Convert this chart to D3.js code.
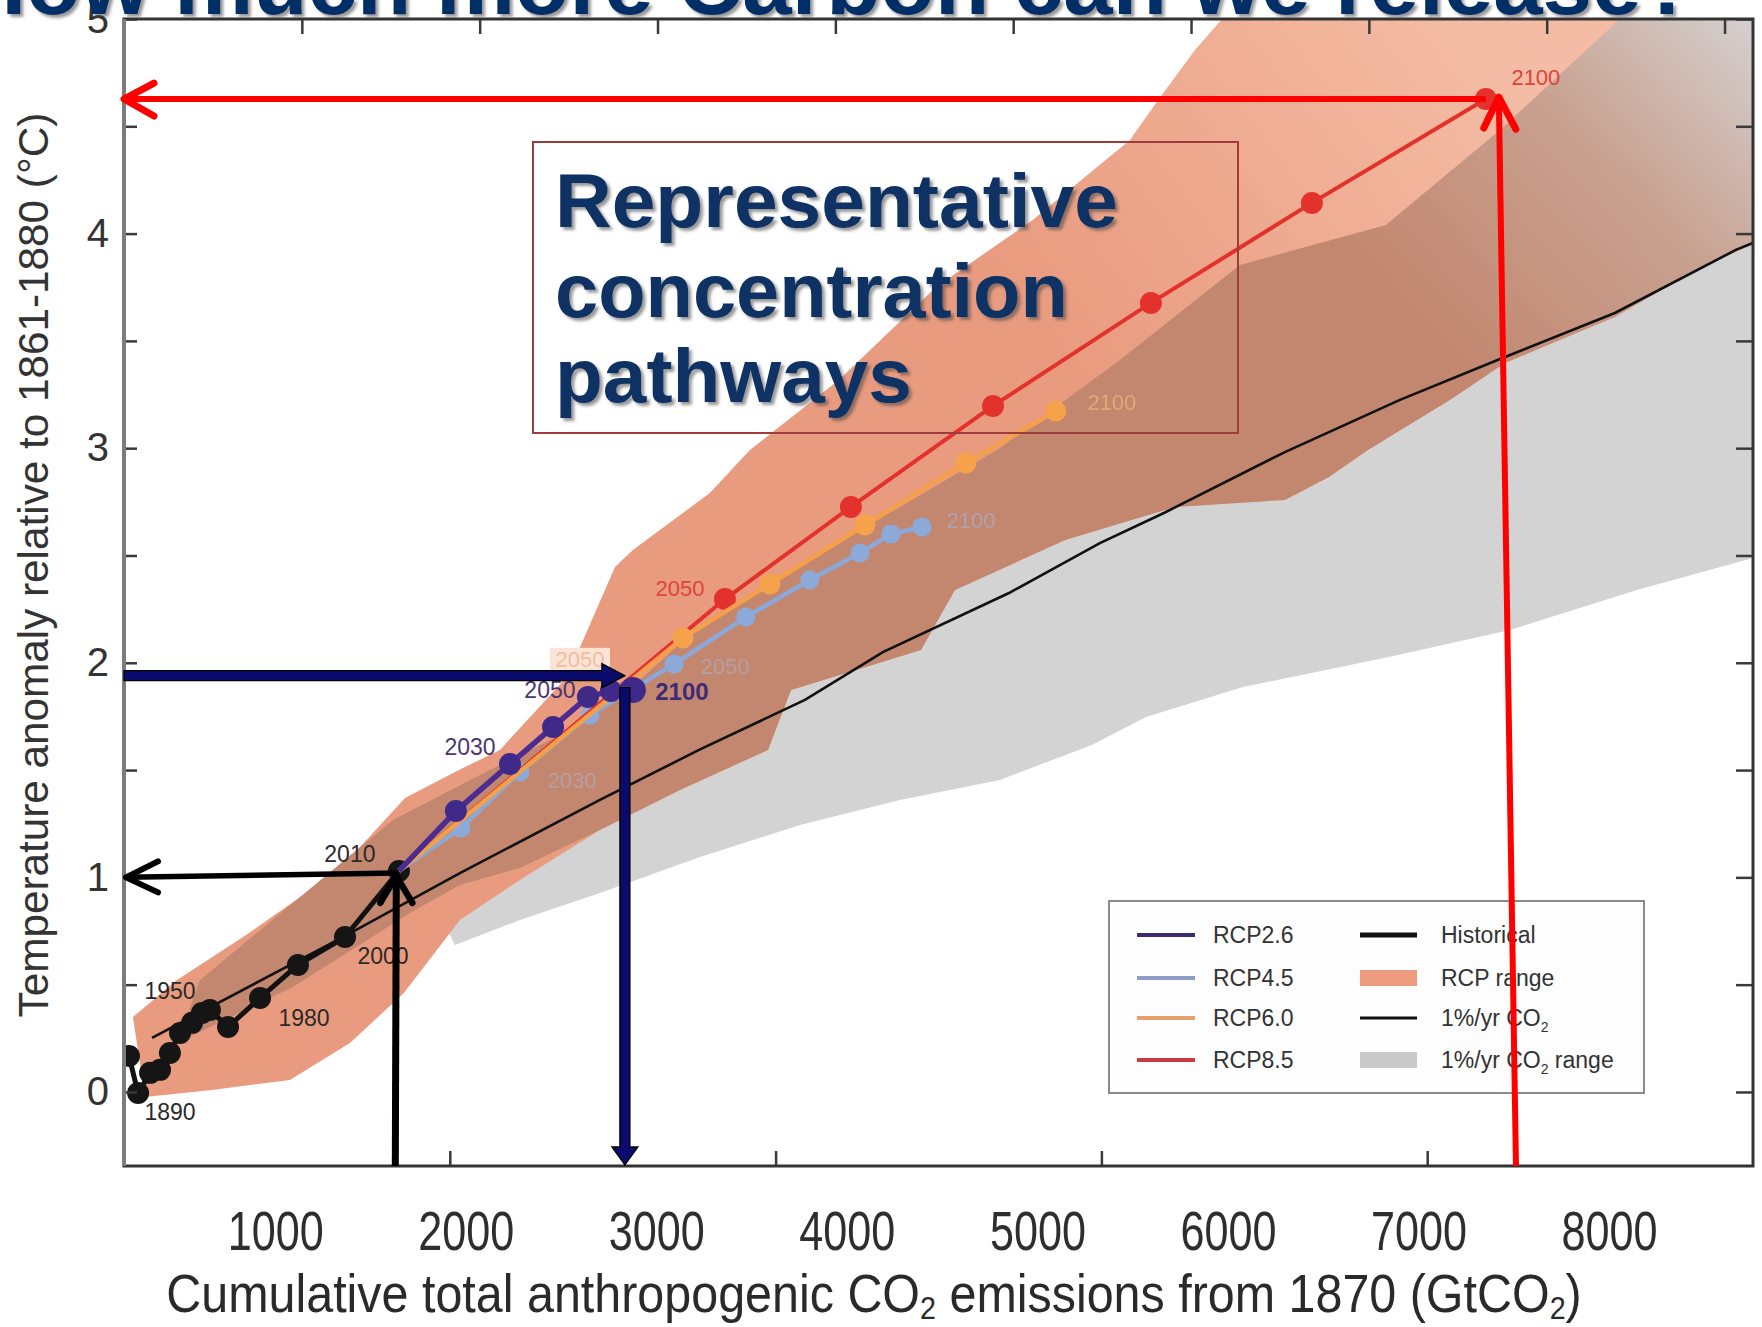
<!DOCTYPE html>
<html><head><meta charset="utf-8">
<script src="https://cdn.jsdelivr.net/npm/d3@7"></script>
<style>
html,body{margin:0;padding:0;background:#fff;}
svg{display:block;}
text{font-family:"Liberation Sans",Arial,sans-serif;}
</style></head>
<body>
<svg id="chart" width="1762" height="1327"></svg>
<script>
// ---------- data (GtCO2 cumulative since 1870, temperature anomaly in °C) ----------
const xTickLabels = [1000, 2000, 3000, 4000, 5000, 6000, 7000, 8000];
const yTickLabels = [0, 1, 2, 3, 4, 5];
const yMinorTicks = [0, 0.5, 1, 1.5, 2, 2.5, 3, 3.5, 4, 4.5, 5];
const topFrameTicks = [300, 600, 900, 1200, 1500, 1800, 2100, 2400, 2700];   // GtC
const bottomFrameTicks = [2000, 4000, 6000, 8000];

const historical = [[232,0.168],[280,-0.005],[343,0.089],[395,0.103],[447,0.182],[500,0.275],
  [563,0.322],[615,0.368],[657,0.382],[752,0.303],[920,0.438],[1119,0.592],[1366,0.722],[1649,1.030]];
const historicalLabels = ['1890','1950','1980','2000','2010'];
const historicalLabelIdx = [1, 6, 10, 12, 13];

const rcp26 = [[1649,1.030],[1948,1.309],[2232,1.528],[2458,1.701],[2641,1.841],[2762,1.869],[2877,1.873]];
const rcp45 = [[1649,1.030],[1975,1.230],[2284,1.491],[2652,1.757],[3093,1.994],[3470,2.213],[3806,2.386],[4069,2.512],[4232,2.600],[4394,2.633]];
const rcp60 = [[1649,1.030],[3140,2.116],[3596,2.367],[4095,2.642],[4625,2.931],[5097,3.173]];
const rcp85 = [[1649,1.030],[3360,2.297],[4021,2.726],[4767,3.197],[5596,3.677],[6441,4.143],[7354,4.627]];

const pctCO2 = [[353,0.252],[1355,0.722],[1969,1.020],[2704,1.361],[3224,1.594],[3780,1.827],[4189,2.050],
  [4851,2.325],[5328,2.558],[5664,2.698],[6299,2.982],[6903,3.225],[7454,3.425],[8031,3.630],[8666,3.924],[8755,3.956]];

// RCP plume (outer edge), upper side left -> right
const rcpRangeUpper = [[253,0.349],[484,0.522],[831,0.722],[1183,0.941],[1445,1.141],[1681,1.370],[1943,1.491],
  [2179,1.594],[2531,1.934],[2783,2.446],[2877,2.526],[3281,2.791],[3491,2.991],[3958,3.318],[4468,3.751],
  [4977,4.064],[5486,4.436],[5630,4.618],[5827,4.855],[5969,5.0]];
// RCP plume, lower side right -> left
const rcpRangeLower = [[8756,3.947],[8688,3.924],[8457,3.830],[8032,3.611],[7454,3.397],[7165,3.225],[6735,2.992],
  [6530,2.866],[6299,2.759],[5722,2.726],[5145,2.572],[4567,2.339],[4389,2.060],[3707,1.873],[3586,1.594],
  [3124,1.407],[2704,1.221],[2284,0.988],[1969,0.801],[1675,0.461],[1392,0.228],[1077,0.056],[668,0.009],[316,-0.023]];
// edge of the 1%/yr CO2 range inside the plume (left -> right)
const pctRangeUpper = [[484,0.228],[605,0.522],[1618,1.267],[2074,1.477],[2494,1.664],[2914,1.920],[3229,2.176],
  [3586,2.372],[4189,2.679],[4788,2.991],[5433,3.411],[6063,3.854],[6829,4.040],[7428,4.483],[8057,5.0]];
// lower edge of the overlap in the historical period (right -> left)
const overlapLowerHist = [[2284,1.044],[1969,0.965],[1707,0.834],[1093,0.489],[484,0.228]];
// lower edge of the 1%/yr CO2 range (left -> right)
const pctRangeLower = [[1943,0.685],[2284,0.801],[2704,0.927],[3229,1.095],[3754,1.244],[4278,1.361],[4803,1.454],
  [5286,1.617],[5570,1.747],[6079,1.887],[6845,2.027],[7480,2.153],[8147,2.339],[8756,2.488]];

const legendLeft = ['RCP2.6','RCP4.5','RCP6.0','RCP8.5'];
const legendRight = [['Historical',''],['RCP range',''],['1%/yr CO','2'],['1%/yr CO','2',' range']];

// budget read-offs
const obsBudget = {gtco2: 1630, temp: 1.0};
const rcp26Budget = {gtco2: 2835, temp: 1.94};
const rcp85Budget = {top: 7422, bottom: 7512, temp: 4.627};

// ---------- layout ----------
const svg = d3.select('#chart');
const F = {left:124, right:1753, top:19, bottom:1166};
const x = d3.scaleLinear().domain([206, 8756]).range([F.left, F.right]);
const y = d3.scaleLinear().domain([-0.345, 5]).range([F.bottom, F.top]);
const xTop = d3.scaleLinear().domain([0, 2748]).range([F.left, F.right]);
const xBot = d3.scaleLinear().domain([0, 10000]).range([F.left, F.right]);
const xMax = x.domain()[1];

svg.append('rect').attr('width',1762).attr('height',1327).attr('fill','#fff');
const defs = svg.append('defs');
const gA = defs.append('linearGradient').attr('id','plumeFade').attr('gradientUnits','userSpaceOnUse')
  .attr('x1',1050).attr('y1',330).attr('x2',1460).attr('y2',20);
gA.append('stop').attr('offset',0).attr('stop-color','#e99b7f');
gA.append('stop').attr('offset',1).attr('stop-color','#f4bca4');
const gB = defs.append('linearGradient').attr('id','coreFade').attr('gradientUnits','userSpaceOnUse')
  .attr('x1',1420).attr('y1',330).attr('x2',1753).attr('y2',20);
gB.append('stop').attr('offset',0).attr('stop-color','#c3876f');
gB.append('stop').attr('offset',0.55).attr('stop-color','#c8a190');
gB.append('stop').attr('offset',1).attr('stop-color','#d4d0cf');
const sh = defs.append('filter').attr('id','shadow').attr('x','-5%').attr('y','-30%').attr('width','115%').attr('height','160%');
sh.append('feDropShadow').attr('dx',3).attr('dy',3).attr('stdDeviation',1.6).attr('flood-color','#444').attr('flood-opacity',0.55);
defs.append('clipPath').attr('id','plotClip').append('rect')
  .attr('x',F.left).attr('y',F.top).attr('width',F.right-F.left).attr('height',F.bottom-F.top);

const line = d3.line().x(d => x(d[0])).y(d => y(d[1]));
const poly = pts => line(pts) + 'Z';
const plot = svg.append('g').attr('clip-path','url(#plotClip)');

// 1%/yr CO2 range
const grayPts = pctRangeLower.concat([[xMax,5]], pctRangeUpper.filter(d => d[0] >= 1618).reverse());
plot.append('path').attr('d', poly(grayPts)).attr('fill','#d3d3d3');
// RCP plume
const plumePts = rcpRangeUpper.concat([[xMax,5]], rcpRangeLower);
plot.append('path').attr('d', poly(plumePts)).attr('fill','url(#plumeFade)');
// overlap of the plume with the 1%/yr range
const corePts = pctRangeUpper.concat([[xMax,5]], rcpRangeLower.filter(d => d[0] >= 2704), overlapLowerHist);
plot.append('path').attr('d', poly(corePts)).attr('fill','url(#coreFade)');

// 1%/yr CO2 line
plot.append('path').attr('d', line(pctCO2)).attr('fill','none').attr('stroke','#111').attr('stroke-width',2.6);

// historical
plot.append('path').attr('d', line(historical)).attr('fill','none').attr('stroke','#111').attr('stroke-width',5).attr('stroke-linejoin','round');
plot.selectAll('.hist').data(historical).join('circle').attr('class','hist')
  .attr('cx', d => x(d[0])).attr('cy', d => y(d[1])).attr('r', 11).attr('fill','#151515');

// scenarios
const series = [
  {data: rcp45, color:'#84ace6', dot:'#86aee6', w:4.5, r:9.5, op:0.9},
  {data: rcp85, color:'#e3322b', dot:'#e3322b', w:4, r:11, op:1},
  {data: rcp60, color:'#f4a04a', dot:'#f6a24a', w:4.5, r:10.5, op:1},
  {data: rcp26, color:'#4d2c92', dot:'#3f2a8a', w:5.5, r:11, op:1}
];
series.forEach(s => {
  const g = plot.append('g').attr('opacity', s.op);
  g.append('path').attr('d', line(s.data)).attr('fill','none').attr('stroke', s.color).attr('stroke-width', s.w).attr('stroke-linejoin','round');
  g.selectAll('circle').data(s.data.slice(1)).join('circle')
    .attr('cx', d => x(d[0])).attr('cy', d => y(d[1]))
    .attr('r', (d, i, n) => (s.data === rcp26 && i === n.length - 1) ? 13 : s.r).attr('fill', s.dot);
});

// year annotations
const yearFont = '"Liberation Sans",Arial,sans-serif';
function yearLabel(pt, dx, dy, txt, fill, size, weight, op) {
  return svg.append('text').attr('x', x(pt[0]) + dx).attr('y', y(pt[1]) + dy).attr('dy','0.35em')
    .attr('text-anchor','middle').attr('font-size', size || 23).attr('font-weight', weight || 'normal')
    .attr('fill', fill).attr('opacity', op || 1).text(txt);
}
const histOff = [[32,19],[-22,-32],[44,20],[38,19],[-49,-17]];
historicalLabels.forEach((t, i) => yearLabel(historical[historicalLabelIdx[i]], histOff[i][0], histOff[i][1], t, '#2a2a2a'));
yearLabel(rcp26[2], -40, -17, '2030', '#4a3475', 23);
yearLabel(rcp26[4], -38, -7, '2050', '#4a3475', 23);
yearLabel(rcp26[6], 49, 2, '2100', '#3f2a78', 24, 'bold');
yearLabel(rcp85[1], -45, -11, '2050', '#e0443c', 22);
yearLabel(rcp85[6], 50, -22, '2100', '#d9453e', 22);
yearLabel(rcp60[5], 56, -9, '2100', '#f2b57c', 22, 'normal', 0.7);
yearLabel(rcp45[9], 49, -7, '2100', '#9fb8e4', 22, 'normal', 0.55);
yearLabel(rcp45[4], 51, 2, '2050', '#a7bde4', 22, 'normal', 0.45);
yearLabel(rcp45[2], 52, 8, '2030', '#a7bde4', 22, 'normal', 0.45);
// pale boxed 2050 marker on RCP6.0
{
  const px = x(rcp60[1][0]) - 103, py = y(rcp60[1][1]) + 21;
  svg.append('rect').attr('x', px - 30).attr('y', py - 11).attr('width', 60).attr('height', 22).attr('fill','#fbe4d6');
  svg.append('text').attr('x', px).attr('y', py).attr('dy','0.35em').attr('text-anchor','middle')
    .attr('font-size', 22).attr('fill','#efbea3').text('2050');
}

// ---------- frame and axes ----------
const tickStyle = g => { g.select('.domain').remove(); g.selectAll('line').attr('stroke','#3a3a3a').attr('stroke-width',2.5); };
svg.append('g').attr('transform',`translate(${F.left},0)`).call(d3.axisRight(y).tickValues(yMinorTicks).tickSize(13).tickFormat('')).call(tickStyle);
svg.append('g').attr('transform',`translate(${F.right},0)`).call(d3.axisLeft(y).tickValues(yMinorTicks).tickSize(17).tickFormat('')).call(tickStyle);
svg.append('g').attr('transform',`translate(0,${F.top})`).call(d3.axisBottom(xTop).tickValues(topFrameTicks).tickSize(15).tickFormat('')).call(tickStyle);
svg.append('g').attr('transform',`translate(0,${F.bottom})`).call(d3.axisTop(xBot).tickValues(bottomFrameTicks).tickSize(15).tickFormat('')).call(tickStyle);

svg.append('rect').attr('x',F.left).attr('y',F.top).attr('width',F.right-F.left).attr('height',F.bottom-F.top)
  .attr('fill','none').attr('stroke','#333').attr('stroke-width',3);
svg.append('line').attr('x1',F.left).attr('x2',F.left).attr('y1',F.top).attr('y2',F.bottom).attr('stroke','#7c7c7c').attr('stroke-width',4);

// y labels
const yAx = svg.append('g').attr('transform',`translate(${F.left},0)`)
  .call(d3.axisLeft(y).tickValues(yTickLabels.filter(v => v < 5)).tickSize(0).tickPadding(15).tickFormat(d3.format('d')));
yAx.select('.domain').remove();
yAx.selectAll('text').attr('font-size',40).attr('fill','#333').attr('font-family',yearFont);

// x labels
const xAx = svg.append('g').attr('transform',`translate(0,${F.bottom})`)
  .call(d3.axisBottom(x).tickValues(xTickLabels).tickSize(0).tickFormat(d3.format('d')));
xAx.select('.domain').remove();
xAx.selectAll('text').attr('font-size',56).attr('fill','#2e2e2e').attr('font-family',yearFont)
  .attr('y',84).attr('dy',0).attr('textLength',96).attr('lengthAdjust','spacingAndGlyphs');

function fitText(sel, target, tx, ty, rot) {
  const w = sel.node().getComputedTextLength();
  sel.attr('x',0).attr('y',0)
    .attr('transform', `translate(${tx},${ty})` + (rot ? ` rotate(${rot})` : '') + ` scale(${target / w},1)`);
}
// axis titles
const xt = svg.append('text').attr('text-anchor','middle').attr('font-size',54).attr('fill','#2a2a2a');
xt.append('tspan').text('Cumulative total anthropogenic CO');
xt.append('tspan').attr('font-size',32).attr('dy',7).text('2');
xt.append('tspan').attr('dy',-7).text(' emissions from 1870 (GtCO');
xt.append('tspan').attr('font-size',32).attr('dy',7).text('2');
xt.append('tspan').attr('dy',-7).text(')');
fitText(xt, 1416, 874, 1312);

const yt = svg.append('text').attr('text-anchor','middle').attr('font-size',42).attr('fill','#333')
  .text('Temperature anomaly relative to 1861-1880 (°C)');
fitText(yt, 905, 48, 565, -90);

// ---------- legend ----------
const lg = svg.append('g');
lg.append('rect').attr('x',1109).attr('y',901).attr('width',535).attr('height',192)
  .attr('fill','#fdfdfd').attr('stroke','#8a8a8a').attr('stroke-width',2);
const rowY = [935, 978, 1018, 1060];
const legColors = ['#3b2d6d','#8e9cc9','#e8a06a','#c83a44'];
legendLeft.forEach((t, i) => {
  lg.append('line').attr('x1',1137).attr('x2',1195).attr('y1',rowY[i]).attr('y2',rowY[i]).attr('stroke',legColors[i]).attr('stroke-width',4);
  lg.append('text').attr('x',1213).attr('y',rowY[i]).attr('dy','0.36em').attr('font-size',23).attr('fill','#333').text(t);
});
lg.append('line').attr('x1',1360).attr('x2',1417).attr('y1',rowY[0]).attr('y2',rowY[0]).attr('stroke','#111').attr('stroke-width',5);
lg.append('rect').attr('x',1360).attr('y',rowY[1]-8).attr('width',57).attr('height',16).attr('fill','#ec9b7f');
lg.append('line').attr('x1',1360).attr('x2',1417).attr('y1',rowY[2]).attr('y2',rowY[2]).attr('stroke','#111').attr('stroke-width',3);
lg.append('rect').attr('x',1360).attr('y',rowY[3]-8).attr('width',57).attr('height',16).attr('fill','#c9c9c9');
legendRight.forEach((p, i) => {
  const t = lg.append('text').attr('x',1441).attr('y',rowY[i]).attr('dy','0.36em').attr('font-size',23).attr('fill','#333');
  t.append('tspan').text(p[0]);
  if (p[1]) t.append('tspan').attr('font-size',14).attr('dy',6).text(p[1]);
  if (p[2]) t.append('tspan').attr('dy',-6).text(p[2]);
});

// ---------- headline box ----------
svg.append('rect').attr('x',533).attr('y',142).attr('width',705).attr('height',291)
  .attr('fill','none').attr('stroke','#9e3b3b').attr('stroke-width',2);
const boxLines = ['Representative','concentration','pathways'];
const boxBase = [227, 317, 402], boxW = [563, 513, 357];
boxLines.forEach((t, i) => {
  const tx = svg.append('text').attr('font-family','"DejaVu Sans",Verdana,sans-serif').attr('font-weight','bold')
    .attr('font-size',76).attr('fill','#0a3064').attr('filter','url(#shadow)').text(t);
  fitText(tx, boxW[i], 555, boxBase[i]);
});

// ---------- read-off arrows ----------
function chevron(tip, a, b, color, w) {
  svg.append('path').attr('d', `M${a[0]},${a[1]}L${tip[0]},${tip[1]}L${b[0]},${b[1]}`)
    .attr('fill','none').attr('stroke',color).attr('stroke-width',w).attr('stroke-linecap','round').attr('stroke-linejoin','round');
}
// observed 2010
{
  const p = historical[historical.length - 1];
  const px = x(p[0]), py = y(p[1]);
  const ty = y(obsBudget.temp);
  svg.append('line').attr('x1',px).attr('y1',py + 2).attr('x2',F.left + 2).attr('y2',ty).attr('stroke','#000').attr('stroke-width',5.5);
  chevron([F.left + 2, ty], [F.left + 34, ty - 16], [F.left + 34, ty + 15], '#000', 6);
  const vx = x(obsBudget.gtco2);
  svg.append('line').attr('x1',vx).attr('y1',F.bottom).attr('x2',vx + 1).attr('y2',py + 3).attr('stroke','#000').attr('stroke-width',7);
  chevron([vx + 1, py + 5], [vx - 15, py + 32], [vx + 17, py + 32], '#000', 6.5);
}
// RCP2.6
{
  const yc = y(rcp26Budget.temp), xc = x(rcp26Budget.gtco2);
  svg.append('path').attr('d', `M${F.left},${yc-5}L${xc-23},${yc-5}L${xc-23},${yc-12}L${xc},${yc}L${xc-23},${yc+12}L${xc-23},${yc+5}L${F.left},${yc+5}Z`)
    .attr('fill','#0b0b6e').attr('stroke','#000').attr('stroke-width',1.3);
  const top = yc + 12, tip = F.bottom - 1;
  svg.append('path').attr('d', `M${xc-5},${top}L${xc+5},${top}L${xc+5},${tip-18}L${xc+13},${tip-18}L${xc},${tip}L${xc-13},${tip-18}L${xc-5},${tip-18}Z`)
    .attr('fill','#0b0b6e').attr('stroke','#000').attr('stroke-width',1.3);
}
// RCP8.5
{
  const p = rcp85[rcp85.length - 1];
  const ty = y(rcp85Budget.temp);
  svg.append('line').attr('x1',x(p[0])).attr('y1',ty).attr('x2',F.left + 1).attr('y2',ty).attr('stroke','#ff0000').attr('stroke-width',6);
  chevron([F.left, ty], [F.left + 30, ty - 16], [F.left + 30, ty + 17], '#ff0000', 7);
  const tx = x(rcp85Budget.top), bx = x(rcp85Budget.bottom);
  svg.append('line').attr('x1',bx).attr('y1',F.bottom).attr('x2',tx).attr('y2',ty - 1).attr('stroke','#ff0000').attr('stroke-width',6);
  chevron([tx, ty - 2], [tx - 15, ty + 29], [tx + 17, ty + 30], '#ff0000', 7);
}

// ---------- headline (the top tick label sits beneath it) ----------
svg.append('text').attr('x', F.left - 15).attr('y', y(5)).attr('dy','0.35em').attr('text-anchor','end')
  .attr('font-size',40).attr('fill','#333').text(d3.format('d')(yTickLabels[yTickLabels.length - 1]));
const title = svg.append('text').attr('font-family','"DejaVu Sans",Verdana,sans-serif').attr('font-weight','bold')
  .attr('font-size',88).attr('fill','#062f66').attr('filter','url(#shadow)').text('How much more Carbon can we release?');
fitText(title, 1734, -38, 14);
</script>
</body></html>
